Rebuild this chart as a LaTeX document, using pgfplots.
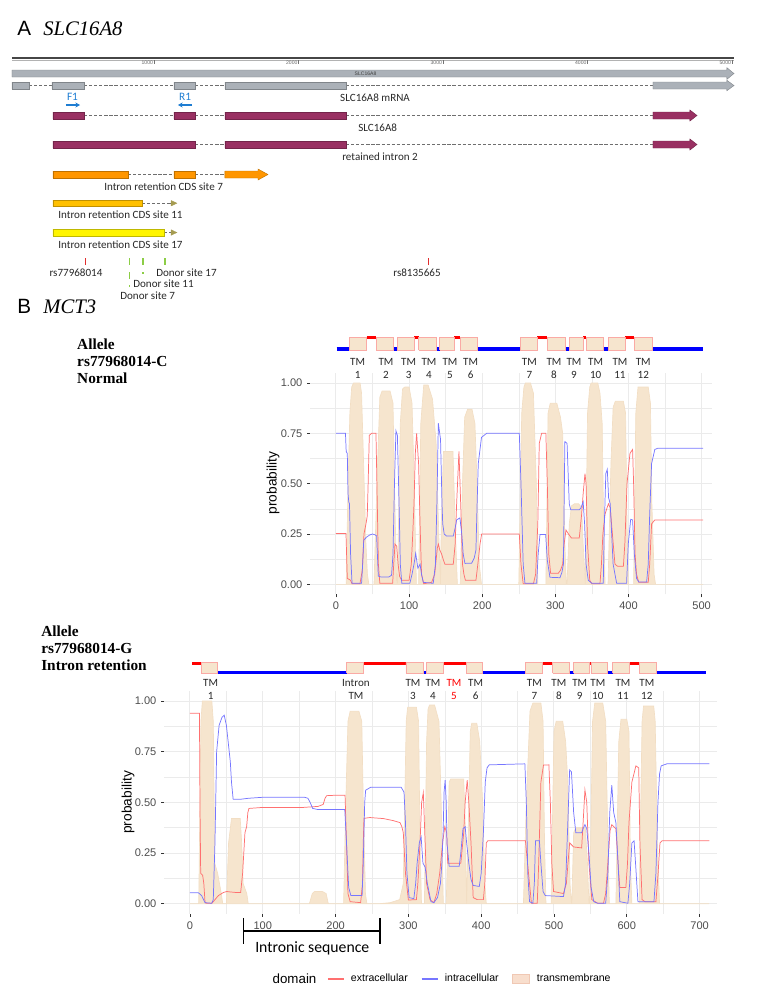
\documentclass[border=0pt]{standalone}
\usepackage{pgfplots}
\pgfplotsset{compat=1.18}
\usetikzlibrary{arrows.meta}
\usepackage{fontspec}
\setmainfont{Liberation Sans}
\newfontfamily\calfont{Carlito}
\newfontfamily\lser{Liberation Serif}

\definecolor{gfill}{RGB}{171,177,184}
\definecolor{purp}{RGB}{153,48,98}
\definecolor{orng}{RGB}{255,150,0}
\definecolor{gold}{RGB}{255,192,0}
\definecolor{yell}{RGB}{255,245,0}
\definecolor{tric}{RGB}{165,155,80}
\definecolor{tmfill}{RGB}{246,229,206}
\definecolor{tmbase}{RGB}{242,222,196}
\definecolor{tmedge}{RGB}{250,170,165}
\definecolor{tmkey}{RGB}{240,200,180}
\definecolor{tmkeyfill}{RGB}{248,222,205}
\definecolor{exred}{RGB}{255,112,112}
\definecolor{inblue}{RGB}{118,118,255}
\definecolor{gridc}{RGB}{235,235,235}
\definecolor{primerblue}{RGB}{30,125,210}
\definecolor{snpred}{RGB}{225,45,45}
\definecolor{donorgreen}{RGB}{140,205,70}
\definecolor{txt}{RGB}{40,40,40}
\definecolor{tickc}{RGB}{77,77,77}
\definecolor{rulec}{RGB}{70,70,70}
\definecolor{dashc}{RGB}{110,110,110}

\newcommand{\gbar}[5]{\addplot[fill=#5, draw=#5!75!black, line width=0.3pt] coordinates {(#1,#3) (#2,#3) (#2,#4) (#1,#4) (#1,#3)};}
\newcommand{\garrow}[9]{\addplot[fill=#9, draw=#9!75!black, line width=0.3pt] coordinates {(#1,#4) (#2,#4) (#2,#6) (#3,#8) (#2,#7) (#2,#5) (#1,#5) (#1,#4)};}
\newcommand{\gdash}[3]{\addplot[dashc, line width=0.7pt, dash pattern=on 2.4pt off 1.4pt] coordinates {(#1,#3) (#2,#3)};}
\newcommand{\hseg}[4]{\addplot[#4, line width=2.4pt, forget plot] coordinates {(#1,#3) (#2,#3)};}
\newcommand{\tmbox}[4]{\addplot[fill=tmfill, draw=tmedge, line width=0.5pt, forget plot] coordinates {(#1,#3) (#2,#3) (#2,#4) (#1,#4) (#1,#3)};}

\tikzset{
  tmlab/.style={align=center, font=\calfont\fontsize{8.3}{9.7}\selectfont, inner sep=0pt, text=txt},
  glab/.style={anchor=west, inner sep=0pt, font=\calfont\fontsize{8.3}{10}\selectfont, text=txt},
}
\pgfplotsset{
  redkey/.style={legend image code/.code={\draw[exred, line width=0.8pt] (0pt,0pt) -- (12pt,0pt);}},
  bluekey/.style={legend image code/.code={\draw[inblue, line width=0.8pt] (0pt,0pt) -- (12pt,0pt);}},
  boxkey/.style={legend image code/.code={\draw[fill=tmkeyfill, draw=tmkey, line width=0.6pt] (0pt,-3.4pt) rectangle (13pt,3.4pt);}},
  probplot/.style={
    scale only axis, clip=false,
    ymin=-0.05, ymax=1.05,
    axis line style={draw=none},
    tick pos=left, tick align=outside,
    major tick length=2.2pt, minor tick length=0pt,
    tick style={draw=black!80, line width=0.45pt},
    grid=both,
    major grid style={draw=gridc, line width=0.75pt},
    minor grid style={draw=gridc, line width=0.4pt},
    ytick={0,0.25,0.5,0.75,1},
    yticklabels={0.00,0.25,0.50,0.75,1.00},
    minor ytick={0.125,0.375,0.625,0.875},
    /pgf/number format/assume math mode=true,
    scaled ticks=false,
    ticklabel style={font=\fontsize{8.3}{10}\selectfont, text=tickc},
  },
}

\begin{document}
\begin{tikzpicture}
\useasboundingbox (0,0) rectangle (577.5pt,-742.5pt);

%================ Panel A ================
\begin{axis}[at={(7.125pt,-225pt)}, anchor=south west, scale only axis,
  width=541.875pt, height=195pt, xmin=0, xmax=5000, ymin=-300, ymax=-40,
  hide axis, clip=false]
% titles
\node[anchor=base west, inner sep=0pt, font=\fontsize{15.5}{18}\selectfont] at (axis cs:52,-35.5) {A};
\node[anchor=base west, inner sep=0pt, font=\lser\itshape\fontsize{15.5}{18}\selectfont] at (axis cs:232,-35.5) {SLC16A8};
\node[anchor=base west, inner sep=0pt, font=\fontsize{15.5}{18}\selectfont] at (axis cs:52,-313.5) {B};
\node[anchor=base west, inner sep=0pt, font=\lser\itshape\fontsize{15.5}{18}\selectfont] at (axis cs:232,-313.5) {MCT3};
% allele labels
\node[anchor=base west, inner sep=0pt, font=\lser\bfseries\fontsize{11.5}{13}\selectfont] at (axis cs:467,-349.3) {Allele};
\node[anchor=base west, inner sep=0pt, font=\lser\bfseries\fontsize{11.5}{13}\selectfont] at (axis cs:467,-366.3) {rs77968014-C};
\node[anchor=base west, inner sep=0pt, font=\lser\bfseries\fontsize{11.5}{13}\selectfont] at (axis cs:467,-383.3) {Normal};
\node[anchor=base west, inner sep=0pt, font=\lser\bfseries\fontsize{11.5}{13}\selectfont] at (axis cs:218,-636) {Allele};
\node[anchor=base west, inner sep=0pt, font=\lser\bfseries\fontsize{11.5}{13}\selectfont] at (axis cs:218,-653) {rs77968014-G};
\node[anchor=base west, inner sep=0pt, font=\lser\bfseries\fontsize{11.5}{13}\selectfont] at (axis cs:218,-670) {Intron retention};

% ruler
\addplot[rulec, line width=1.7pt] coordinates {(17,-58.3) (5014,-58.3)};
\addplot[black!30, line width=0.6pt] coordinates {(17,-60.0) (5014,-60.0)};
\pgfplotsinvokeforeach{1000,2000,3000,4000,5000}{
  \addplot[black!55, line width=0.4pt] coordinates {(#1,-60) (#1,-63.5)};
  \node[anchor=east, inner sep=0.6pt, font=\fontsize{3.8}{4.5}\selectfont, text=black!60] at (axis cs:#1,-62.3) {#1};
}
% full gene arrow
\garrow{17}{4965}{5014}{-70}{-77}{-67.7}{-79.3}{-73.5}{gfill}
\node[font=\fontsize{3.8}{4.5}\selectfont, text=black!75] at (axis cs:2464,-73.5) {SLC16A8};

% mRNA
\gdash{135}{294}{-85.5} \gdash{516}{1138}{-85.5} \gdash{1284}{1491}{-85.5} \gdash{2329}{4453}{-85.5}
\gbar{17}{135}{-82}{-89}{gfill}
\gbar{294}{516}{-82}{-89}{gfill}
\gbar{1138}{1284}{-82}{-89}{gfill}
\gbar{1491}{2329}{-82}{-89}{gfill}
\garrow{4453}{4965}{5014}{-82}{-89}{-80.3}{-90.7}{-85.5}{gfill}
\node[glab] at (axis cs:2287,-97.5) {SLC16A8 mRNA};

% primers
\node[inner sep=0pt, text=primerblue, font=\calfont\fontsize{8.5}{10}\selectfont] at (axis cs:436,-97) {F1};
\addplot[primerblue, line width=0.9pt, -{Stealth[length=3.5pt,width=3.8pt]}] coordinates {(391,-105) (488,-105)};
\node[inner sep=0pt, text=primerblue, font=\calfont\fontsize{8.5}{10}\selectfont] at (axis cs:1215,-97) {R1};
\addplot[primerblue, line width=0.9pt, -{Stealth[length=3.5pt,width=3.8pt]}] coordinates {(1263,-105) (1166,-105)};

% SLC16A8 CDS
\gdash{516}{1138}{-115.5} \gdash{1284}{1491}{-115.5} \gdash{2329}{4453}{-115.5}
\gbar{301}{516}{-112}{-119}{purp}
\gbar{1138}{1284}{-112}{-119}{purp}
\gbar{1491}{2329}{-112}{-119}{purp}
\garrow{4453}{4709}{4758}{-112}{-119}{-110}{-121}{-115.5}{purp}
\node[glab] at (axis cs:2412,-127.5) {SLC16A8};

% retained intron 2
\gdash{1284}{1491}{-144.5} \gdash{2329}{4453}{-144.5}
\gbar{301}{1284}{-141}{-148}{purp}
\gbar{1491}{2329}{-141}{-148}{purp}
\garrow{4453}{4709}{4758}{-141}{-148}{-139}{-150}{-144.5}{purp}
\node[glab] at (axis cs:2301,-157) {retained intron 2};

% site 7
\gdash{820}{1138}{-174.5} \gdash{1284}{1491}{-174.5}
\gbar{301}{820}{-171}{-178}{orng}
\gbar{1138}{1284}{-171}{-178}{orng}
\garrow{1491}{1720}{1789}{-171}{-178}{-169}{-180}{-174.5}{orng}
\node[glab] at (axis cs:654,-187) {Intron retention CDS site 7};

% site 11
\gdash{917}{1119}{-203.2}
\gbar{301}{917}{-200}{-206.5}{gold}
\addplot[fill=tric, draw=tric, line width=0.3pt] coordinates {(1119,-200.5) (1158,-203.2) (1119,-205.9) (1119,-200.5)};
\node[glab] at (axis cs:336,-215) {Intron retention CDS site 11};

% site 17
\gdash{1069}{1119}{-232.5}
\gbar{301}{1069}{-229}{-236}{yell}
\addplot[fill=tric, draw=tric, line width=0.3pt] coordinates {(1119,-229.8) (1158,-232.5) (1119,-235.2) (1119,-229.8)};
\node[glab] at (axis cs:336,-245) {Intron retention CDS site 17};

% SNPs
\addplot[snpred, line width=0.9pt] coordinates {(527,-258) (527,-264.5)};
\addplot[snpred, line width=0.9pt] coordinates {(2898,-258) (2898,-264.5)};
\node[inner sep=0pt, font=\calfont\fontsize{8.3}{10}\selectfont, text=txt] at (axis cs:460,-272.7) {rs77968014};
\node[inner sep=0pt, font=\calfont\fontsize{8.3}{10}\selectfont, text=txt] at (axis cs:2820,-272.3) {rs8135665};
% donor sites
\addplot[donorgreen, line width=1.1pt] coordinates {(829,-258) (829,-265)};
\addplot[donorgreen, line width=1.1pt] coordinates {(829,-272) (829,-279)};
\addplot[donorgreen, line width=1.1pt] coordinates {(829,-285) (829,-287)};
\addplot[donorgreen, line width=1.1pt] coordinates {(924,-258) (924,-265)};
\addplot[donorgreen, line width=1.1pt] coordinates {(924,-272) (924,-274)};
\addplot[donorgreen, line width=1.1pt] coordinates {(1076,-258) (1076,-265)};
\node[glab] at (axis cs:1014,-272.3) {Donor site 17};
\node[glab] at (axis cs:855,-284) {Donor site 11};
\node[glab] at (axis cs:765,-295.5) {Donor site 7};
\end{axis}

%================ Panel B, plot 1 ================
\begin{axis}[probplot, at={(232.5pt,-445.8pt)}, anchor=south west,
  width=301.4pt, height=166.1pt, xmin=-35.5, xmax=514,
  xtick={0,100,200,300,400,500}, xticklabels={0,100,200,300,400,500},
  minor xtick={50,150,250,350,450}]
\addplot[fill=tmfill, draw=tmbase, line width=0.5pt] coordinates {
(0,0) (14,0) (16,0.4) (19,0.85) (21.5,0.98) (24,1) (33,1) (35,0.95) (37,0.7) (39,0.45) (41,0.2) (43,0.05) (45,0)
(52,0) (56,0.5) (60,0.93) (63,0.96) (74,0.96) (78,0.9) (80,0.5) (83,0)
(84,0) (88,0.8) (91,0.97) (94,0.98) (100,0.98) (104,0.9) (107,0.5) (110,0)
(113,0) (116,0.8) (120,0.99) (126,0.99) (132,0.92) (137,0.7) (141,0.2) (143,0)
(144,0.3) (147,0.66) (160,0.66) (163,0.3) (166,0)
(170,0) (173,0.5) (176,0.83) (180,0.87) (186,0.87) (190,0.8) (193,0.5) (196,0.1) (199,0)
(250,0) (254,0.85) (257,0.98) (259,1.0) (266,1.0) (270,0.95) (274,0.5) (276,0)
(287,0) (290,0.85) (293,0.9) (302,0.9) (307,0.83) (310,0.75) (313,0.2) (315,0)
(316,0) (319,0.3) (322,0.39) (326,0.4) (332,0.4) (336,0.38) (338,0.2) (341,0)
(344,0.85) (347,0.98) (349,1.0) (358,1.0) (361,0.95) (364,0.8) (366,0.3) (368,0)
(372,0) (376,0.6) (379,0.88) (382,0.91) (393,0.91) (396,0.85) (398,0.3) (400,0)
(407,0) (410,0.85) (413,0.98) (427,0.98) (430,0.9) (432,0.4) (435,0.05) (437,0) (502,0)
} \closedcycle;
\addplot[exred, line width=0.55pt] coordinates {
(0,0.253) (13.7,0.253) (15.5,0.03) (20,0.02) (22,0.003) (32.8,0.003) (36,0.07) (38.3,0.25) (41,0.3) (42.8,0.34) (44,0.5) (45.6,0.74) (48.8,0.75) (54.7,0.75) (56,0.5) (58,0.1) (60,0.005) (77.5,0.005) (79,0.1) (80.7,0.2) (83,0.19) (85,0.1) (87,0.04) (89.8,0.02) (100,0.02) (103,0.1) (105,0.25) (106.7,0.4) (108.5,0.65) (110.3,0.75) (113,0.6) (115,0.3) (117,0.05) (120,0.003) (130.8,0.01) (135,0.05) (138.6,0.18) (140,0.2) (142,0.17) (144.5,0.15) (147,0.12) (149,0.10) (160.4,0.10) (163,0.2) (165,0.4) (168.2,0.66) (171,0.35) (173,0.1) (175,0.05) (177,0.02) (191.4,0.02) (194,0.1) (197,0.2) (199.2,0.25) (250.7,0.25) (253,0.1) (256,0.003) (270,0.003) (273,0.05) (276,0.3) (278,0.7) (281.2,0.75) (287,0.75) (289,0.5) (291,0.15) (293.5,0.055) (304,0.055) (307,0.07) (310,0.1) (312,0.2) (314.5,0.27) (318,0.25) (322,0.23) (332.7,0.23) (336,0.35) (338,0.45) (340.5,0.55) (342,0.5) (344,0.2) (347,0.02) (350,0.003) (361,0.003) (363,0.1) (365,0.25) (368,0.35) (372.5,0.40) (375,0.38) (378,0.25) (381.5,0.1) (385,0.09) (393,0.09) (395,0.2) (398,0.5) (402,0.65) (405.6,0.67) (407,0.5) (409,0.15) (411,0.05) (414,0.01) (427,0.01) (429,0.1) (431.6,0.3) (436,0.32) (502,0.32)
};
\addplot[inblue, line width=0.55pt] coordinates {
(0,0.75) (13,0.75) (14,0.66) (15.5,0.65) (16.5,0.45) (17.5,0.41) (18.5,0.40) (20,0.15) (22,0.005) (35,0.005) (36.5,0.1) (38,0.22) (42,0.235) (46,0.245) (50,0.25) (54,0.245) (55.6,0.24) (57.9,0.041) (62,0.036) (72,0.036) (76,0.045) (78,0.15) (80,0.5) (82,0.763) (84,0.74) (86.6,0.35) (88,0.1) (90,0.005) (101,0.005) (104,0.05) (106.7,0.1) (109,0.154) (112,0.08) (115,0.1) (117,0.05) (119.4,0.01) (133,0.005) (136,0.1) (138,0.4) (140,0.80) (143,0.72) (145,0.4) (146,0.3) (148,0.25) (151,0.24) (160.4,0.24) (163,0.28) (165,0.32) (169.5,0.33) (172,0.25) (174,0.15) (176.4,0.104) (185.5,0.105) (189,0.13) (191.4,0.17) (193,0.4) (194.6,0.6) (199,0.73) (206,0.75) (250.7,0.75) (253,0.5) (256,0.1) (258.4,0.005) (274.4,0.005) (276.5,0.15) (279,0.248) (286.7,0.248) (289,0.12) (292.6,0.035) (306.3,0.033) (309,0.06) (311,0.1) (312,0.4) (313,0.709) (316,0.70) (318,0.5) (319,0.4) (321,0.37) (332.7,0.37) (335,0.38) (338,0.41) (340,0.3) (342,0.1) (345,0.02) (350,0.005) (365.5,0.005) (367,0.3) (369,0.55) (371,0.571) (372.8,0.43) (375,0.40) (377,0.25) (379,0.1) (383.8,0.005) (397.4,0.005) (399.7,0.2) (403,0.323) (405.6,0.32) (408,0.15) (411,0.03) (414,0.012) (424.8,0.012) (427,0.1) (429,0.35) (431.6,0.6) (436,0.67) (440,0.676) (502,0.676)
};
% topology
\hseg{1}{18}{1.169}{blue} \hseg{79}{84}{1.169}{blue} \hseg{137}{142}{1.169}{blue}
\hseg{193}{252}{1.169}{blue} \hseg{313}{319}{1.169}{blue} \hseg{366}{372}{1.169}{blue}
\hseg{432}{502}{1.169}{blue}
\hseg{42}{55}{1.225}{red} \hseg{107}{113}{1.225}{red} \hseg{162}{170}{1.225}{red}
\hseg{275}{289}{1.225}{red} \hseg{338}{342}{1.225}{red} \hseg{395}{408}{1.225}{red}
\tmbox{18}{42}{1.164}{1.228} \tmbox{55}{79}{1.164}{1.228} \tmbox{84}{107}{1.164}{1.228}
\tmbox{113}{137}{1.164}{1.228} \tmbox{142}{162}{1.164}{1.228} \tmbox{170}{193}{1.164}{1.228}
\tmbox{252}{275}{1.164}{1.228} \tmbox{289}{313}{1.164}{1.228} \tmbox{319}{338}{1.164}{1.228}
\tmbox{342}{366}{1.164}{1.228} \tmbox{372}{395}{1.164}{1.228} \tmbox{408}{432}{1.164}{1.228}
\node[tmlab] at (axis cs:29.6,1.0735) {TM\\1};
\node[tmlab] at (axis cs:68.4,1.0735) {TM\\2};
\node[tmlab] at (axis cs:99.4,1.0735) {TM\\3};
\node[tmlab] at (axis cs:127.2,1.0735) {TM\\4};
\node[tmlab] at (axis cs:155.9,1.0735) {TM\\5};
\node[tmlab] at (axis cs:184.2,1.0735) {TM\\6};
\node[tmlab] at (axis cs:264.4,1.0735) {TM\\7};
\node[tmlab] at (axis cs:298.1,1.0735) {TM\\8};
\node[tmlab] at (axis cs:325.4,1.0735) {TM\\9};
\node[tmlab] at (axis cs:355.1,1.0735) {TM\\10};
\node[tmlab] at (axis cs:388.3,1.0735) {TM\\11};
\node[tmlab] at (axis cs:420.2,1.0735) {TM\\12};
\node[rotate=90, font=\fontsize{10.3}{12}\selectfont] at (axis description cs:-0.092,0.503) {probability};
\end{axis}

%================ Panel B, plot 2 ================
\begin{axis}[probplot, at={(123pt,-685.35pt)}, anchor=south west,
  width=414.8pt, height=167.2pt, xmin=-35.7, xmax=724,
  xtick={0,100,200,300,400,500,600,700}, xticklabels={0,100,200,300,400,500,600,700},
  minor xtick={50,150,250,350,450,550,650},
  legend style={at={(0.2947,-0.2925)}, anchor=west, draw=none, fill=none, inner sep=0pt,
    legend columns=-1, font=\fontsize{7.9}{9}\selectfont,
    /tikz/every odd column/.append style={column sep=3pt},
    /tikz/every even column/.append style={column sep=8pt}},
  legend cell align=left]
\addlegendimage{redkey}
\addlegendentry{extracellular}
\addlegendimage{bluekey}
\addlegendentry{intracellular}
\addlegendimage{boxkey}
\addlegendentry{transmembrane}
\addplot[fill=tmfill, draw=tmbase, line width=0.5pt, forget plot] coordinates {
(0,0) (12,0) (15,0.9) (17,1.0) (30,1.0) (32,0.9) (34,0.2) (38,0.15) (43,0.05) (45,0)
(50,0) (53,0.3) (57,0.42) (69,0.42) (71,0.3) (73,0.1) (78,0.05) (80,0)
(164,0) (168,0.05) (171,0.06) (182,0.06) (187,0.05) (190,0)
(211,0) (214,0.5) (217,0.9) (220,0.95) (232,0.95) (236,0.9) (238,0.5) (241,0.05) (243,0)
(260,0) (275,0.005) (288,0.02) (293,0.1) (297,0.9) (299,0.97) (311,0.97) (314,0.9) (316,0.3) (318,0)
(322,0) (325,0.8) (327,0.96) (329,0.98) (336,0.98) (342,0.9) (345,0.5) (348,0)
(352,0) (356,0.6) (358,0.615) (376,0.615) (378,0.4) (380,0)
(383,0.5) (385,0.85) (387,0.89) (394,0.89) (398,0.8) (402,0.5) (405,0.1) (407,0)
(458,0) (462,0.5) (467,0.95) (471,0.99) (482,0.99) (485,0.9) (487,0.3) (489,0)
(496,0) (500,0.85) (503,0.9) (512,0.9) (516,0.8) (519,0.6) (522,0.1) (524,0)
(524.5,0) (527,0.35) (530,0.375) (543,0.375) (546,0.2) (548,0)
(549,0) (553,0.9) (556,0.99) (567,0.99) (571,0.9) (574,0.3) (576,0)
(585,0) (589,0.8) (592,0.91) (600,0.91) (603,0.85) (605,0.2) (607,0)
(617,0) (621,0.9) (623,0.975) (637,0.975) (639,0.9) (642,0.3) (645,0) (713,0)
} \closedcycle;
\addplot[exred, line width=0.55pt, forget plot] coordinates {
(0,0.94) (13,0.94) (13.7,0.5) (14.7,0.15) (17.4,0.14) (19,0.1) (20.6,0.01) (22,0.002) (30,0.002) (32,0.01) (34.3,0.02) (39,0.04) (45.8,0.055) (50.4,0.06) (55,0.058) (64,0.055) (69.6,0.055) (72.3,0.15) (75.5,0.35) (77.8,0.38) (79.5,0.45) (81,0.47) (100,0.475) (155.7,0.475) (176,0.48) (183,0.49) (185.5,0.52) (187.7,0.533) (200,0.535) (213,0.535) (215,0.3) (217,0.05) (220,0.01) (234.4,0.005) (237,0.1) (238,0.3) (239,0.421) (247,0.425) (265.6,0.42) (279,0.41) (288.5,0.40) (291,0.38) (293,0.35) (296,0.15) (300,0.018) (311,0.02) (313,0.1) (316,0.3) (318.2,0.5) (320.5,0.548) (323,0.3) (325,0.1) (329.7,0.02) (335,0.005) (339,0.05) (343,0.15) (347,0.3) (350,0.38) (352.6,0.35) (354,0.2) (372,0.2) (376,0.35) (378,0.5) (380.8,0.61) (383,0.5) (386,0.3) (389,0.03) (394.6,0.02) (403,0.02) (405,0.1) (407,0.3) (409,0.31) (460.8,0.31) (465,0.15) (469,0.002) (477,0.002) (479,0.2) (482,0.6) (485.6,0.684) (493,0.685) (495,0.5) (497,0.2) (499.4,0.06) (513,0.05) (517,0.1) (521.5,0.3) (527,0.28) (538,0.275) (540,0.4) (542.5,0.561) (545,0.5) (548,0.2) (552,0.02) (560,0.002) (568,0.002) (571,0.05) (574,0.2) (577,0.36) (579.4,0.39) (585,0.37) (588,0.2) (590.4,0.08) (598.7,0.08) (601,0.2) (603,0.4) (607,0.6) (612.5,0.68) (616.4,0.67) (618,0.3) (621,0.02) (625,0.01) (640,0.01) (643,0.15) (645.6,0.3) (648.4,0.31) (713.5,0.31)
};
\addplot[inblue, line width=0.55pt, forget plot] coordinates {
(0,0.054) (11.4,0.054) (16,0.04) (20.6,0.005) (29.8,0.002) (32,0.02) (34.3,0.3) (36.6,0.75) (40,0.88) (44,0.92) (47,0.93) (50,0.88) (53,0.78) (55.4,0.7) (57,0.6) (59.3,0.515) (69,0.515) (80,0.52) (100,0.525) (157.5,0.525) (162,0.52) (165,0.5) (168.5,0.47) (175,0.465) (212.6,0.465) (215,0.3) (218,0.08) (221,0.04) (236.4,0.04) (238,0.2) (240,0.5) (241.3,0.56) (248.5,0.575) (290,0.575) (294,0.55) (296,0.4) (298,0.15) (301,0.03) (307.5,0.025) (310,0.1) (312,0.2) (315,0.3) (317.5,0.33) (320,0.2) (323,0.18) (326,0.1) (331,0.01) (335,0.005) (340,0.03) (344,0.1) (346,0.2) (347.7,0.35) (349,0.55) (350.5,0.61) (352,0.5) (353,0.3) (356,0.185) (369.8,0.185) (372,0.25) (375,0.37) (378,0.38) (380,0.3) (383,0.2) (386,0.12) (389,0.09) (397.4,0.085) (400,0.15) (403,0.35) (405.6,0.6) (408,0.67) (411,0.685) (460,0.69) (462,0.5) (464,0.15) (466.4,0.01) (471,0.002) (473,0.1) (474.6,0.31) (480,0.31) (482,0.2) (485,0.06) (488,0.04) (513,0.035) (516,0.1) (519,0.4) (521.5,0.66) (524,0.65) (527,0.45) (530,0.35) (538,0.35) (540,0.37) (542.5,0.39) (545,0.37) (548,0.25) (551,0.08) (554.6,0.01) (560,0.002) (571,0.002) (574,0.15) (576.6,0.45) (579.4,0.585) (582,0.45) (585,0.4) (588,0.2) (590.4,0.01) (601.5,0.002) (604,0.1) (607,0.3) (610,0.31) (612,0.2) (615.3,0.01) (637.3,0.01) (640,0.15) (642.8,0.5) (645,0.64) (647.2,0.68) (655,0.69) (713.5,0.69)
};
% topology
\hseg{3}{15.7}{1.186}{red} \hseg{238.6}{296.6}{1.186}{red} \hseg{347.8}{379.3}{1.186}{red}
\hseg{484}{498}{1.186}{red} \hseg{548}{550.8}{1.186}{red} \hseg{603.3}{617}{1.186}{red}
\hseg{37.2}{215.4}{1.1416}{blue} \hseg{320.2}{324.6}{1.1416}{blue} \hseg{401.9}{460.8}{1.1416}{blue}
\hseg{520.5}{527}{1.1416}{blue} \hseg{573}{580.6}{1.1416}{blue} \hseg{640.2}{709}{1.1416}{blue}
\tmbox{15.7}{37.2}{1.137}{1.191} \tmbox{215.4}{238.6}{1.137}{1.191} \tmbox{296.6}{320.2}{1.137}{1.191}
\tmbox{324.6}{347.8}{1.137}{1.191} \tmbox{379.3}{401.9}{1.137}{1.191} \tmbox{460.8}{484}{1.137}{1.191}
\tmbox{498}{520.5}{1.137}{1.191} \tmbox{527}{548}{1.137}{1.191} \tmbox{550.8}{573}{1.137}{1.191}
\tmbox{580.6}{603.3}{1.137}{1.191} \tmbox{617}{640.2}{1.137}{1.191}
\node[tmlab] at (axis cs:28.3,1.0577) {TM\\1};
\node[tmlab] at (axis cs:228,1.0577) {Intron\\TM};
\node[tmlab] at (axis cs:306.3,1.0577) {TM\\3};
\node[tmlab] at (axis cs:333.8,1.0577) {TM\\4};
\node[tmlab, text=red] at (axis cs:362.6,1.0577) {TM\\5};
\node[tmlab] at (axis cs:392.4,1.0577) {TM\\6};
\node[tmlab] at (axis cs:473,1.0577) {TM\\7};
\node[tmlab] at (axis cs:506.7,1.0577) {TM\\8};
\node[tmlab] at (axis cs:535.4,1.0577) {TM\\9};
\node[tmlab] at (axis cs:560.2,1.0577) {TM\\10};
\node[tmlab] at (axis cs:594.8,1.0577) {TM\\11};
\node[tmlab] at (axis cs:627.5,1.0577) {TM\\12};
% intronic bracket
\addplot[black, line width=1.3pt, forget plot] coordinates {(73.6,-0.0705) (73.6,-0.199)};
\addplot[black, line width=1.3pt, forget plot] coordinates {(260.7,-0.0705) (260.7,-0.199)};
\addplot[black, line width=1.3pt, forget plot] coordinates {(73.6,-0.1347) (260.7,-0.1347)};
\node[inner sep=0pt, font=\calfont\fontsize{11.8}{14}\selectfont] at (axis cs:168,-0.2185) {Intronic sequence};
\node[rotate=90, font=\fontsize{10.3}{12}\selectfont] at (axis description cs:-0.065,0.50) {probability};
\node[anchor=west, inner sep=0pt, font=\fontsize{10}{12}\selectfont] at (axis description cs:0.196,-0.2925) {domain};
\end{axis}
\end{tikzpicture}
\end{document}
